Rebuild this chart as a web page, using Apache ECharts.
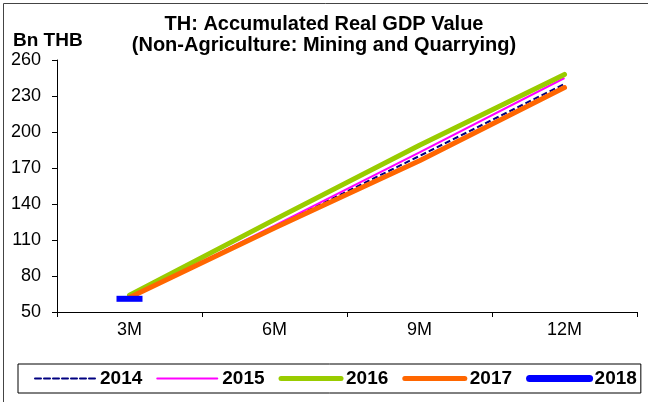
<!DOCTYPE html>
<html>
<head>
<meta charset="utf-8">
<script src="https://cdn.jsdelivr.net/npm/echarts@6/dist/echarts.min.js"></script>
<style>
  html, body { margin: 0; padding: 0; background: #fff; }
  #chart { width: 648px; height: 402px; }
</style>
</head>
<body>
<div id="chart"></div>
<script>
// Accumulated real GDP, mining and quarrying (Bn THB), by quarter
const quarters = ['3M', '6M', '9M', '12M'];
const y2014 = [62, 121, 180, 240];
const y2015 = [62, 122, 183, 245];
const y2016 = [64, 127, 189, 248];
const y2017 = [62, 120, 176, 237];
const y2018 = [61, null, null, null];
const yTicks = { min: 50, max: 260, step: 30 };

const FONT = '"Liberation Sans", Arial, sans-serif';

// legend entries: line only, no marker, width per series
function legendItem(name, width) {
  return { name: name, itemStyle: { opacity: 0 }, lineStyle: { width: width, cap: 'round' } };
}

const chart = echarts.init(document.getElementById('chart'), null, { renderer: 'canvas' });

chart.setOption({
  animation: false,
  backgroundColor: '#fff',
  textStyle: { fontFamily: FONT },
  title: [
    {
      text: 'TH: Accumulated Real GDP Value',
      left: 'center',
      top: 9,
      textStyle: { fontFamily: FONT, fontSize: 20, fontWeight: 'bold', color: '#000' }
    },
    {
      text: '(Non-Agriculture: Mining and Quarrying)',
      left: 'center',
      top: 30,
      textStyle: { fontFamily: FONT, fontSize: 20, fontWeight: 'bold', color: '#000' }
    },
    {
      text: 'Bn THB',
      left: 8,
      top: 26,
      textStyle: { fontFamily: FONT, fontSize: 19, fontWeight: 'bold', color: '#000' }
    }
  ],
  grid: { left: 57, right: 11, top: 60, bottom: 90 },
  xAxis: {
    type: 'category',
    data: quarters,
    boundaryGap: true,
    axisLine: { lineStyle: { color: '#000', width: 1 } },
    axisTick: { show: true, length: 5, lineStyle: { color: '#000' } },
    axisLabel: { fontFamily: FONT, fontSize: 18, color: '#000', margin: 9 },
    splitLine: { show: false }
  },
  yAxis: {
    type: 'value',
    min: yTicks.min,
    max: yTicks.max,
    interval: yTicks.step,
    axisLine: { show: true, lineStyle: { color: '#000', width: 1 } },
    axisTick: { show: true, length: 5, lineStyle: { color: '#000' } },
    axisLabel: { fontFamily: FONT, fontSize: 18, color: '#000', margin: 16 },
    splitLine: { show: false }
  },
  legend: {
    left: 18,
    top: 364,
    width: 630,
    orient: 'horizontal',
    itemWidth: 60,
    itemHeight: 8,
    itemGap: 14,
    padding: [5, 4, 5, 16],
    borderColor: '#000',
    borderWidth: 1,
    textStyle: { fontFamily: FONT, fontSize: 19, fontWeight: 'bold', color: '#000' },
    data: [
      legendItem('2014', 2),
      legendItem('2015', 2),
      legendItem('2016', 5),
      legendItem('2017', 5),
      legendItem('2018', 7)
    ]
  },
  series: [
    {
      name: '2014', type: 'line', data: y2014, symbol: 'none',
      lineStyle: { color: '#000080', width: 2, type: [6, 3] },
      itemStyle: { color: '#000080' }
    },
    {
      name: '2015', type: 'line', data: y2015, symbol: 'none',
      lineStyle: { color: '#FF00FF', width: 2 },
      itemStyle: { color: '#FF00FF' }
    },
    {
      name: '2016', type: 'line', data: y2016, symbol: 'none',
      lineStyle: { color: '#99CC00', width: 5, cap: 'round' },
      itemStyle: { color: '#99CC00' }
    },
    {
      name: '2017', type: 'line', data: y2017, symbol: 'none',
      lineStyle: { color: '#FF6600', width: 5, cap: 'round' },
      itemStyle: { color: '#FF6600' }
    },
    {
      name: '2018', type: 'line', data: y2018,
      symbol: 'rect', symbolSize: [26, 6], showSymbol: true,
      lineStyle: { color: '#0000FF', width: 7, cap: 'round' },
      itemStyle: { color: '#0000FF' }
    }
  ],
  graphic: [
    { type: 'line', shape: { x1: 3.5, y1: 3.5, x2: 648, y2: 3.5 }, style: { stroke: '#444', lineWidth: 1 }, silent: true },
    { type: 'line', shape: { x1: 3.5, y1: 3.5, x2: 3.5, y2: 402 }, style: { stroke: '#444', lineWidth: 1 }, silent: true }
  ]
});
</script>
</body>
</html>
